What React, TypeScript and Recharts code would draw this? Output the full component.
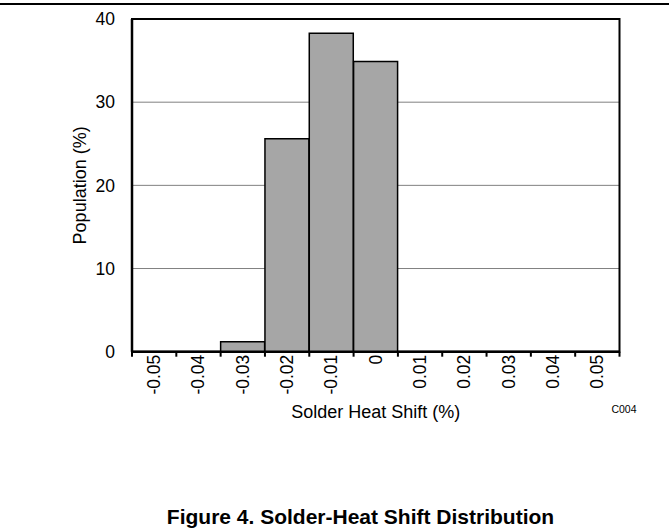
import React from 'react';
import { BarChart, Bar, XAxis, YAxis, CartesianGrid, ReferenceArea, Label } from 'recharts';

const categories = ['-0.05', '-0.04', '-0.03', '-0.02', '-0.01', '0', '0.01', '0.02', '0.03', '0.04', '0.05'];
const population = [0, 0, 1.2, 25.6, 38.3, 34.9, 0, 0, 0, 0, 0];
const yTicks = [0, 10, 20, 30, 40];
const yTitle = 'Population (%)';
const xTitle = 'Solder Heat Shift (%)';
const figureCode = 'C004';
const figureTitle = 'Figure 4. Solder-Heat Shift Distribution';

const FONT = '"Liberation Sans", Arial, Helvetica, sans-serif';

const CHART_W = 669;
const CHART_H = 531;
const MARGIN = { top: 19, right: 49.5, bottom: 179.29, left: 92 };
const Y_AXIS_W = 40;
const PLOT_W = CHART_W - MARGIN.left - MARGIN.right - Y_AXIS_W;
const BAND = PLOT_W / categories.length;
const TICK_MARGIN = 3;

const data = categories.map((bin, i) => ({ bin, pop: population[i] }));

const BinTick = (props: any) => {
  const { x, y, payload, index } = props;
  const axisY = y - TICK_MARGIN;
  const isLast = index === categories.length - 1;
  return (
    <g>
      <line x1={x - BAND / 2} x2={x - BAND / 2} y1={axisY} y2={axisY + 5} stroke="#000" strokeWidth={2} />
      {isLast && (
        <line x1={x + BAND / 2} x2={x + BAND / 2} y1={axisY} y2={axisY + 5} stroke="#000" strokeWidth={2} />
      )}
      <text
        x={0}
        y={0}
        transform={`translate(${x},${y}) rotate(-90)`}
        textAnchor="end"
        dominantBaseline="central"
        fontSize={17.5}
        fontFamily={FONT}
        fill="#000"
      >
        {payload.value}
      </text>
    </g>
  );
};

export default function App() {
  return (
    <div style={{ position: 'absolute', left: 0, top: 0, width: CHART_W, height: CHART_H, background: '#fff' }}>
      <BarChart
        width={CHART_W}
        height={CHART_H}
        data={data}
        margin={MARGIN}
        barCategoryGap={0}
        barGap={0}
      >
        <CartesianGrid vertical={false} stroke="#808080" strokeWidth={1} />
        <XAxis
          dataKey="bin"
          height={0.01}
          interval={0}
          axisLine={{ stroke: '#000', strokeWidth: 2.5 }}
          tickLine={false}
          tickSize={0}
          tickMargin={TICK_MARGIN}
          tick={<BinTick />}
        >
          <Label
            content={(p: any) => {
              const vb = p.viewBox;
              const cx = vb.x + vb.width / 2;
              return (
                <text x={cx} y={vb.y + 66.5} textAnchor="middle" fontSize={18} fontFamily={FONT} fill="#000">
                  {xTitle}
                </text>
              );
            }}
          />
        </XAxis>
        <YAxis
          domain={[0, 40]}
          ticks={yTicks}
          width={Y_AXIS_W}
          axisLine={{ stroke: '#000', strokeWidth: 2.5 }}
          tickLine={false}
          tickSize={6}
          tickMargin={11}
          tick={{ fill: '#000', fontSize: 17.5, fontFamily: FONT }}
        >
          <Label
            content={(p: any) => {
              const vb = p.viewBox;
              const cy = vb.y + vb.height / 2;
              const bx = 86.5;
              return (
                <text
                  x={bx}
                  y={cy}
                  transform={`rotate(-90 ${bx} ${cy})`}
                  textAnchor="middle"
                  fontSize={18}
                  fontFamily={FONT}
                  fill="#000"
                >
                  {yTitle}
                </text>
              );
            }}
          />
        </YAxis>
        <Bar dataKey="pop" fill="#A6A6A6" stroke="#000" strokeWidth={1.5} isAnimationActive={false} />
        <ReferenceArea
          x1={categories[0]}
          x2={categories[categories.length - 1]}
          y1={0}
          y2={40}
          fill="none"
          fillOpacity={0}
          stroke="#000"
          strokeWidth={2}
          ifOverflow="visible"
        />
      </BarChart>
      <svg
        width={CHART_W}
        height={CHART_H}
        style={{ position: 'absolute', left: 0, top: 0, pointerEvents: 'none' }}
      >
        <line x1={0} x2={CHART_W} y1={4} y2={4} stroke="#000" strokeWidth={1.8} />
        <text x={624} y={412.5} textAnchor="middle" fontSize={10.5} fontFamily={FONT} fill="#000">
          {figureCode}
        </text>
        <text x={360.5} y={524} textAnchor="middle" fontSize={21} fontWeight="bold" fontFamily={FONT} fill="#000">
          {figureTitle}
        </text>
      </svg>
    </div>
  );
}
